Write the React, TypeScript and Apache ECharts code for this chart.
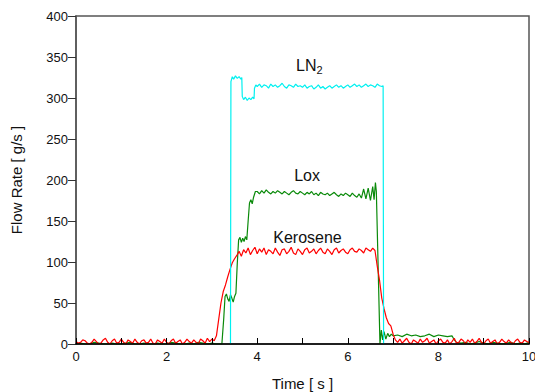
import React, { useEffect, useRef } from "react";
import * as echarts from "echarts";

// Kerosene: sampled every 0.05 s from 0 to 10 s
const keroseneStep = 0.05;
const keroseneFlow = [
  3, 1, 2, 5, 4, 1, 0, 2, 6, 3, 0, 1, 5, 7, 2, 0, 4, 6, 1, 2,
  6, 2, 0, 5, 3, 1, 6, 2, 0, 4, 5, 1, 2, 6, 1, 0, 5, 3, 1, 6,
  2, 0, 4, 6, 1, 3, 5, 0, 2, 6, 3, 1, 5, 2, 0, 6, 4, 1, 7, 3,
  6, 4, 10, 30, 50, 64, 72, 82, 91, 99, 104, 108, 113, 107, 115, 111, 117, 109, 114, 118,
  110, 116, 112, 117, 109, 115, 113, 110, 117, 112, 108, 115, 116, 110, 113, 118, 111, 109, 116, 113,
  109, 115, 117, 111, 113, 116, 110, 114, 117, 112, 110, 116, 113, 109, 115, 117, 111, 114, 116, 112,
  110, 115, 117, 113, 112, 116, 114, 111, 117, 115, 113, 117, 114, 95, 78, 56, 43, 32, 25, 22,
  12, 5, 2, 6, 1, 4, 7, 2, 0, 5, 3, 1, 6, 2, 4, 7, 1, 3, 5, 0,
  4, 6, 2, 1, 5, 0, 3, 7, 1, 2, 6, 4, 0, 5, 2, 6, 1, 3, 7, 2,
  0, 4, 6, 1, 3, 5, 0, 2, 6, 3, 1, 5, 2, 0, 4, 6, 2, 1, 5, 3,
  2,
];

// Lox: baseline every 0.1 s from 0 to 3.2 s
const loxBase = [0, 1, 0, 0, 2, 1, 0, 0, 1, 0, 0, 1, 2, 0, 0, 1, 0, 0, 1, 0, 0, 2, 1, 0, 0, 1, 0, 2, 1, 0, 1, 0, 0];
// Lox: start-up transient [time, flow]
const loxRise = [
  [3.22, 0], [3.26, 30], [3.29, 58], [3.32, 61], [3.35, 55], [3.38, 52], [3.41, 60], [3.44, 56],
  [3.47, 51], [3.5, 58], [3.53, 62], [3.56, 98], [3.59, 127], [3.62, 130], [3.65, 124], [3.68, 129],
  [3.71, 125], [3.74, 131], [3.77, 127], [3.8, 150], [3.83, 172], [3.86, 176], [3.89, 171], [3.92, 179],
  [3.96, 186],
];
// Lox: steady state every 0.05 s from 4.0 to 6.25 s
const loxSteady = [
  186, 183, 187, 184, 188, 185, 183, 186, 184, 187, 185, 183, 186, 184, 182, 185, 187, 184, 183, 186,
  184, 182, 185, 183, 186, 182, 184, 181, 185, 183, 182, 184, 181, 183, 185, 182, 180, 183, 181, 184,
  182, 180, 184, 181, 179, 183,
];
// Lox: shut-down transient [time, flow]
const loxFall = [
  [6.3, 178], [6.35, 189], [6.4, 177], [6.45, 190], [6.5, 175], [6.55, 192], [6.58, 176], [6.61, 197],
  [6.63, 186], [6.65, 140], [6.68, 70], [6.71, 0], [6.74, 17], [6.77, 5], [6.8, 15], [6.84, 6],
  [6.88, 13], [6.92, 9], [6.96, 12],
];
// Lox: tail every 0.1 s from 7.0 to 8.3 s
const loxTail = [10, 11, 9, 12, 10, 11, 9, 10, 12, 9, 11, 10, 9, 10];
// Lox: end [time, flow]
const loxEnd = [
  [8.35, 5], [8.4, 2], [8.5, 1], [8.6, 2], [8.7, 0], [8.8, 1], [8.9, 3], [9.0, 1], [9.1, 0], [9.2, 2],
  [9.3, 1], [9.4, 0], [9.5, 1], [9.6, 2], [9.7, 0], [9.8, 1], [9.9, 0], [10.0, 2],
];

// LN2: start-up [time, flow]
const ln2Rise = [
  [3.41, 0], [3.42, 320], [3.45, 326], [3.48, 323], [3.52, 327], [3.56, 324], [3.6, 326], [3.64, 323],
  [3.66, 325], [3.67, 302], [3.7, 298], [3.74, 301], [3.78, 297], [3.82, 300], [3.86, 298], [3.9, 301],
  [3.93, 299], [3.94, 312], [3.97, 316],
];
// LN2: steady state every 0.05 s from 4.0 to 6.75 s
const ln2Steady = [
  314, 317, 313, 316, 315, 312, 317, 314, 316, 313, 315, 318, 314, 312, 316, 315, 313, 317, 314, 315,
  313, 316, 312, 314, 315, 311, 313, 316, 312, 314, 311, 313, 315, 312, 314, 316, 313, 315, 312, 314,
  316, 313, 315, 317, 314, 316, 313, 315, 317, 314, 316, 315, 313, 317, 315, 314,
];
const ln2End = [[6.78, 315], [6.79, 0]];

const xTicks = { min: 0, max: 10, interval: 1 };
const yTicks = { min: 0, max: 400, interval: 50 };

const labels = [
  { name: "LN2", coord: [5.15, 340] },
  { name: "Lox", coord: [5.1, 205] },
  { name: "Kerosene", coord: [5.11, 130] },
];

const r2 = (v: number) => Math.round(v * 100) / 100;

export default function App() {
  const ref = useRef<HTMLDivElement>(null);
  useEffect(() => {
    if (!ref.current) return;
    const chart = echarts.init(ref.current, undefined, { renderer: "svg" });

    const kerData = keroseneFlow.map((v, i) => [r2(i * keroseneStep), v]);
    const loxData: number[][] = [
      ...loxBase.map((v, i) => [r2(i * 0.1), v]),
      ...loxRise,
      ...loxSteady.map((v, i) => [r2(4 + i * 0.05), v]),
      ...loxFall,
      ...loxTail.map((v, i) => [r2(7 + i * 0.1), v]),
      ...loxEnd,
    ];
    const ln2Data: number[][] = [
      ...ln2Rise,
      ...ln2Steady.map((v, i) => [r2(4 + i * 0.05), v]),
      ...ln2End,
    ];

    const font = "'Liberation Sans', Arial, sans-serif";
    const mk = (l: { name: string; coord: number[] }) => ({
      coord: l.coord,
      symbol: "circle",
      symbolSize: 0,
      label: {
        show: true,
        position: "inside",
        formatter: l.name === "LN2" ? "{n|LN}{s|2}" : l.name,
        fontSize: 16,
        color: "#111",
        fontFamily: font,
        rich: {
          n: { fontSize: 16, color: "#111", fontFamily: font },
          s: { fontSize: 11, color: "#111", fontFamily: font, padding: [9, 0, 0, 0] },
        },
      },
    });

    chart.setOption({
      animation: false,
      backgroundColor: "#fff",
      grid: {
        left: 76,
        right: 6,
        top: 16,
        bottom: 48,
        containLabel: false,
        outerBoundsMode: "none",
        show: true,
        borderColor: "#555",
        borderWidth: 1.5,
      },
      xAxis: {
        type: "value",
        ...xTicks,
        z: 5,
        name: "Time [ s ]",
        nameLocation: "middle",
        nameGap: 32,
        nameTextStyle: { fontSize: 15, color: "#111", fontFamily: font },
        axisLine: { lineStyle: { color: "#000", width: 1.5 } },
        axisTick: { inside: true, length: 6, lineStyle: { color: "#000", width: 1 } },
        axisLabel: {
          fontSize: 13,
          color: "#111",
          fontFamily: font,
          margin: 6,
          formatter: (v: number) => (v % 2 === 0 ? String(v) : ""),
        },
        splitLine: { show: false },
      },
      yAxis: {
        type: "value",
        ...yTicks,
        name: "Flow Rate [ g/s ]",
        nameLocation: "middle",
        nameGap: 52,
        nameTextStyle: { fontSize: 15, color: "#111", fontFamily: font },
        axisLine: { lineStyle: { color: "#555", width: 1.5 } },
        axisTick: { inside: false, length: 8, lineStyle: { color: "#333", width: 1 } },
        axisLabel: { fontSize: 13, color: "#111", fontFamily: font, margin: 8 },
        splitLine: { show: false },
      },
      series: [
        {
          name: "Lox",
          type: "line",
          data: loxData,
          showSymbol: false,
          lineStyle: { color: "#0a8a0a", width: 1.2 },
          itemStyle: { color: "#0a8a0a" },
          markPoint: { data: [mk(labels[1])] },
          z: 2,
        },
        {
          name: "Kerosene",
          type: "line",
          data: kerData,
          showSymbol: false,
          lineStyle: { color: "#ff0000", width: 1.2 },
          itemStyle: { color: "#ff0000" },
          markPoint: { data: [mk(labels[2])] },
          z: 3,
        },
        {
          name: "LN2",
          type: "line",
          data: ln2Data,
          showSymbol: false,
          lineStyle: { color: "#00f0f0", width: 1.2 },
          itemStyle: { color: "#00f0f0" },
          markPoint: { data: [mk(labels[0])] },
          z: 4,
        },
      ],
    });
    return () => chart.dispose();
  }, []);
  return (
    <div
      ref={ref}
      style={{ position: "fixed", left: 0, top: 0, width: 535, height: 392, background: "#fff" }}
    />
  );
}
